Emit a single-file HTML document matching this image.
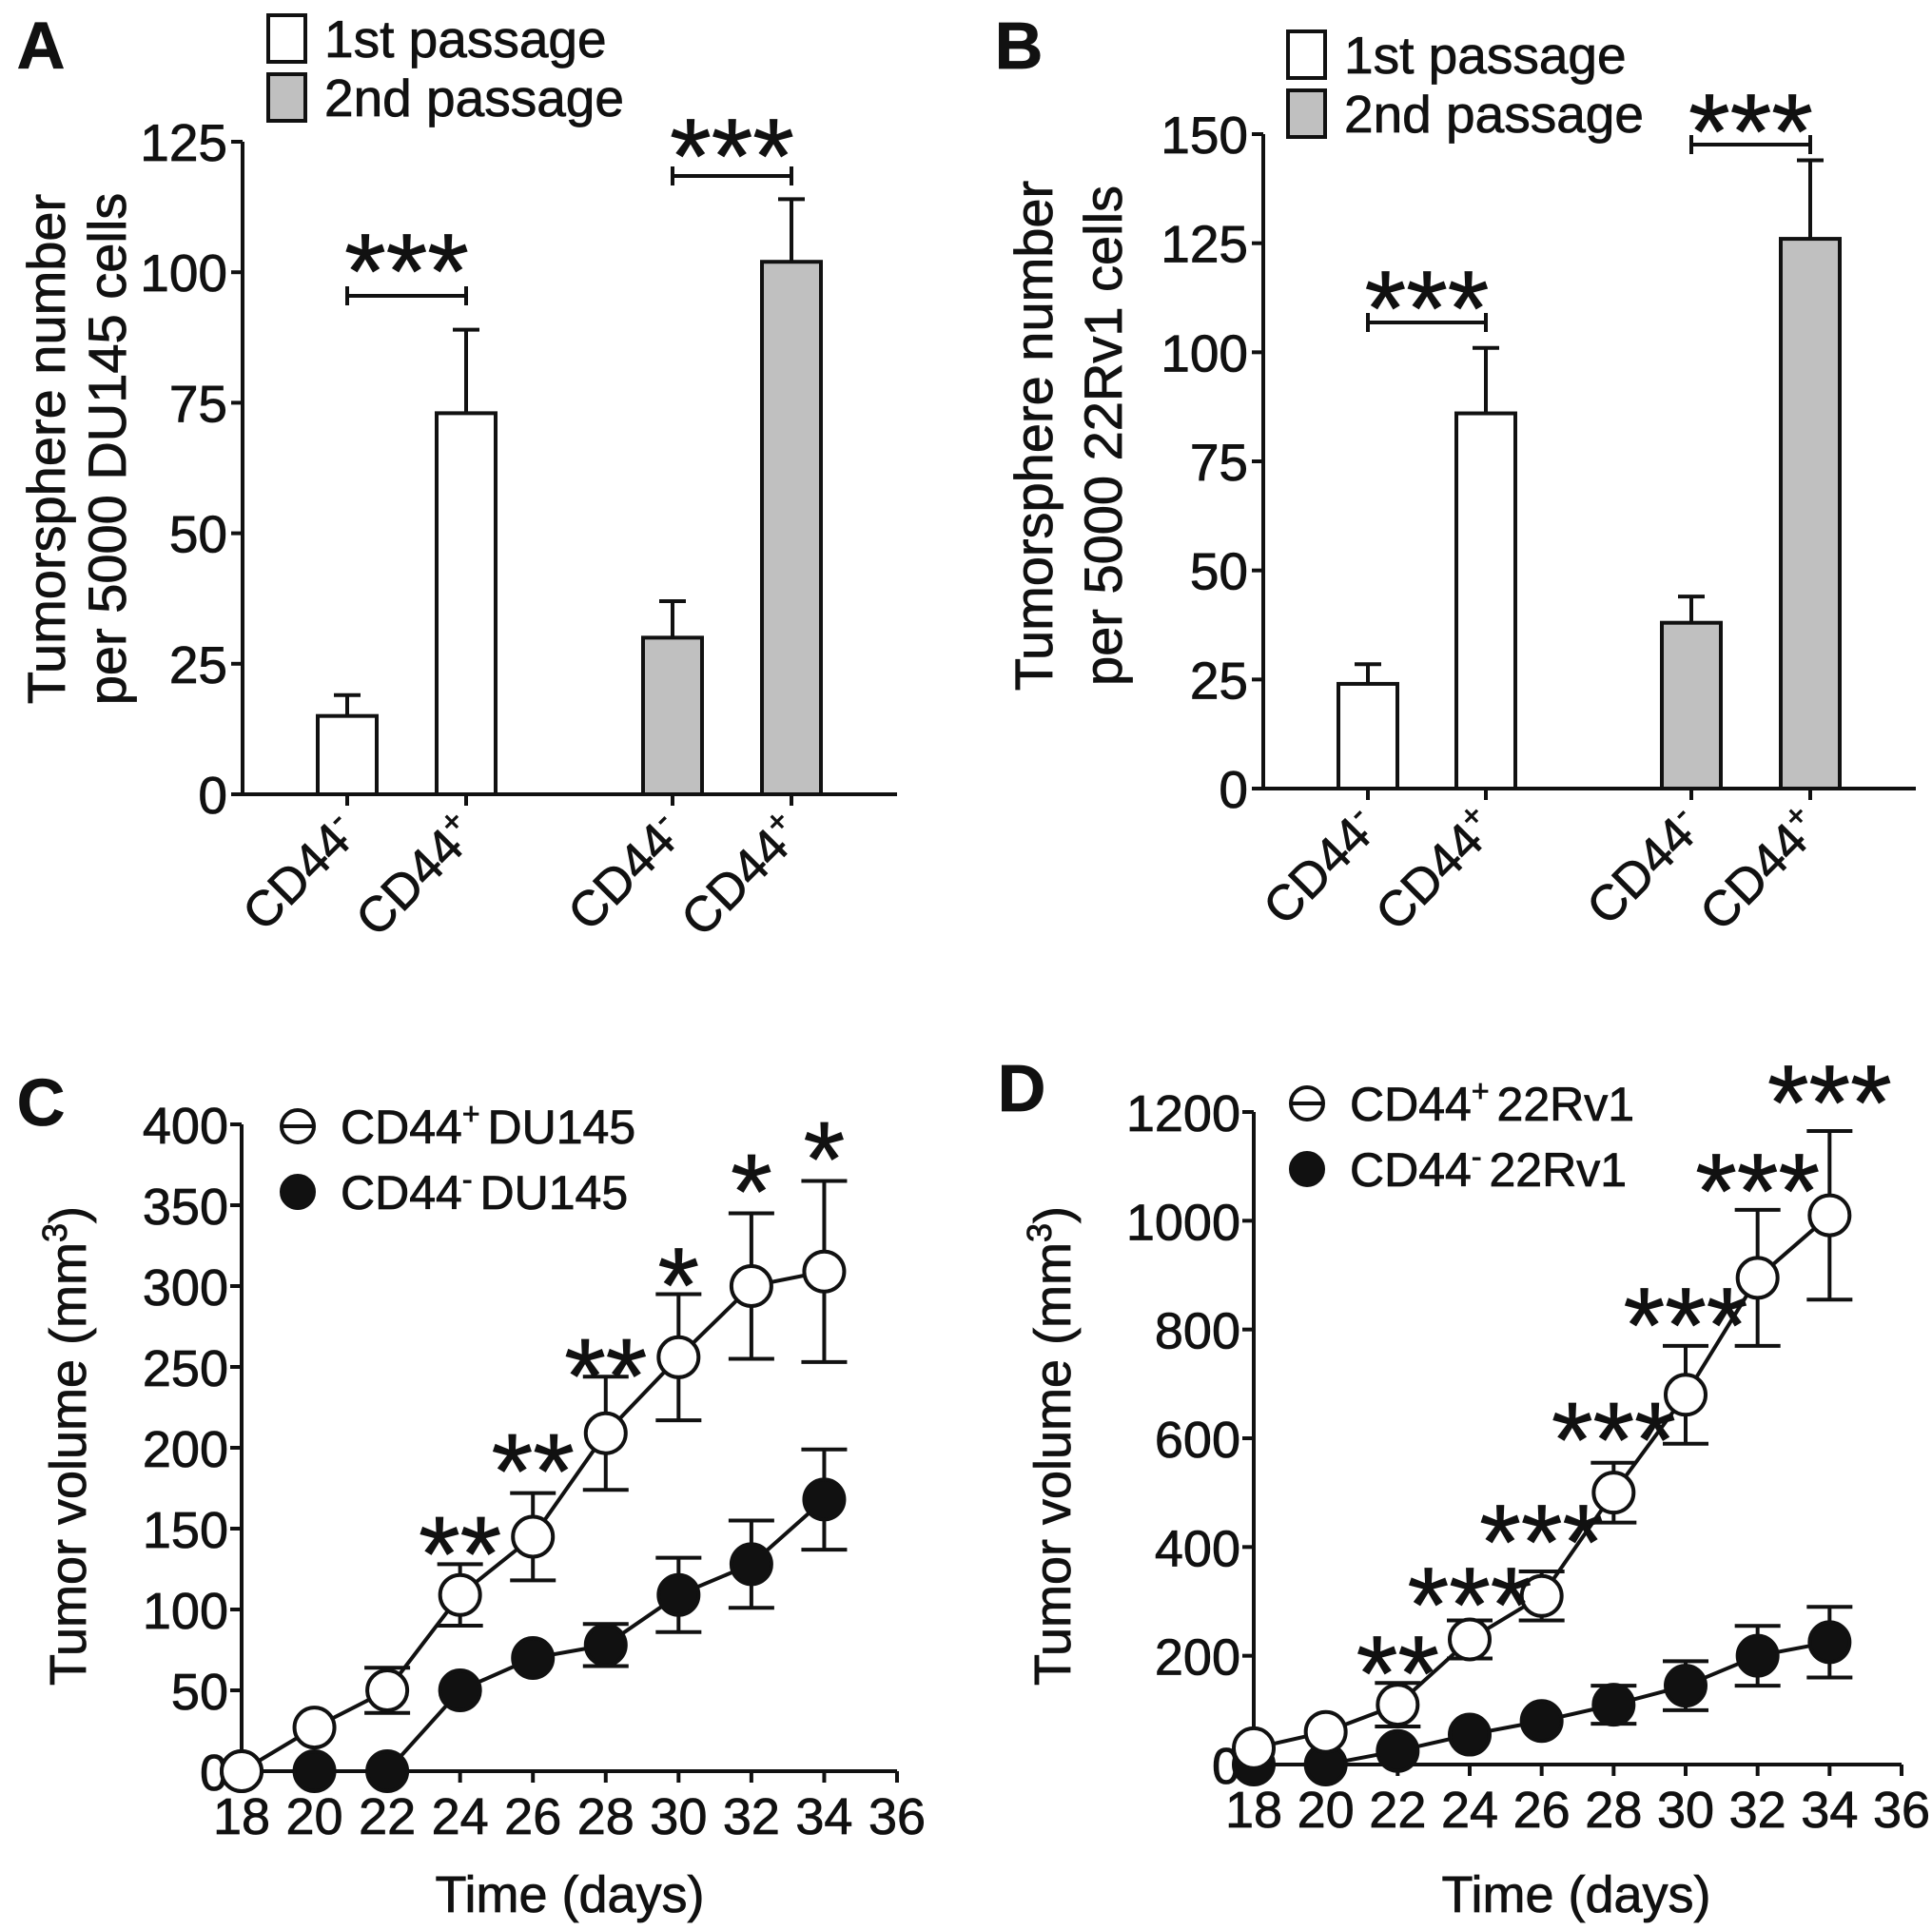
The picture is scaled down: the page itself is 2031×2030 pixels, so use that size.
<!DOCTYPE html>
<html><head><meta charset="utf-8"><style>
html,body{margin:0;padding:0;background:#fff}
svg{display:block;font-family:"Liberation Sans",Arial,sans-serif}
text{stroke:#111;stroke-width:0.8px}
</style></head><body>
<svg id="fig" width="2031" height="2030" viewBox="0 0 2031 2030" xmlns="http://www.w3.org/2000/svg">
<rect width="2031" height="2030" fill="#fff"/>
</svg>
<script>
// Panel A data
const aCats = ["CD44-","CD44+","CD44-","CD44+"];
const aVals = [15, 73, 30, 102];
const aErrs = [4, 16, 7, 12];
const aTicks = [0, 25, 50, 75, 100, 125];
// Panel B data
const bCats = ["CD44-","CD44+","CD44-","CD44+"];
const bVals = [24, 86, 38, 126];
const bErrs = [4.5, 15, 6, 18];
const bTicks = [0, 25, 50, 75, 100, 125, 150];
// Panel C data
const cDays = [18, 20, 22, 24, 26, 28, 30, 32, 34];
const cPlus = [0, 27, 50, 109, 145, 209, 256, 300, 309];
const cPlusErr = [0, 0, 14, 19, 27, 35, 39, 45, 56];
const cMinus = [0, 0, 0, 50, 70, 78, 109, 128, 168];
const cMinusErr = [0, 0, 0, 0, 0, 13, 23, 27, 31];
const cStarDays = [24, 26, 28, 30, 32, 34];
const cStarLabels = ["**", "**", "**", "*", "*", "*"];
const cStarVals = [148, 199, 258, 314, 372, 392];
const cYTicks = [0, 50, 100, 150, 200, 250, 300, 350, 400];
const xTicks = [18, 20, 22, 24, 26, 28, 30, 32, 34, 36];
// Panel D data
const dPlus = [30, 60, 110, 230, 310, 500, 680, 895, 1010];
const dPlusErr = [0, 0, 40, 35, 45, 55, 90, 125, 155];
const dMinus = [0, 0, 25, 55, 80, 110, 145, 200, 225];
const dMinusErr = [0, 0, 0, 0, 0, 35, 45, 55, 65];
const dStarDays = [22, 24, 26, 28, 30, 32, 34];
const dStarLabels = ["**", "***", "***", "***", "***", "***", "***"];
const dStarVals = [208, 334, 450, 638, 848, 1095, 1258];
const dYTicks = [0, 200, 400, 600, 800, 1000, 1200];

const NS = "http://www.w3.org/2000/svg";
const svg = document.getElementById("fig");
function el(tag, attrs, parent) {
  const e = document.createElementNS(NS, tag);
  for (const k in attrs) e.setAttribute(k, attrs[k]);
  (parent || svg).appendChild(e);
  return e;
}
function txt(s, x, y, size, anchor, parent, weight) {
  const t = el("text", {x: x, y: y, "font-size": size, "text-anchor": anchor || "start", fill: "#111", "font-weight": weight || "normal"}, parent);
  t.textContent = s;
  return t;
}

function barPanel(cfg) {
  const g = el("g", {});
  
  
  const y = v => cfg.y0 - (v / cfg.ymax) * (cfg.y0 - cfg.ytop);
  const ax = el("path", {d: `M${cfg.ax} ${cfg.ytop} V${cfg.y0} H${cfg.xend}`, stroke: "#111", "stroke-width": 4, fill: "none"}, g);
  
  
  cfg.ticks.forEach(t => {
    const yy = y(t);
    el("line", {x1: cfg.ax - 12, x2: cfg.ax, y1: yy, y2: yy, stroke: "#111", "stroke-width": 4}, g);
    const l = txt(String(t), cfg.ax - 16, yy + 20, 55, "end", g);
    
    
  });
  cfg.vals.forEach((v, i) => {
    const cx = cfg.centers[i];
    const fill = i < 2 ? "#fff" : "#c0c0c0";
    const eb = el("path", {d: `M${cx} ${y(v)} V${y(v + cfg.errs[i])} M${cx - 14} ${y(v + cfg.errs[i])} H${cx + 14}`, stroke: "#111", "stroke-width": 4, fill: "none"}, g);
    
    
    const r = el("rect", {x: cx - 31, y: y(v), width: 62, height: cfg.y0 - y(v), fill: fill, stroke: "#111", "stroke-width": 4}, g);
    
    
    el("line", {x1: cx, x2: cx, y1: cfg.y0, y2: cfg.y0 + 12, stroke: "#111", "stroke-width": 4}, g);
    const cat = cfg.cats[i];
    const lt = el("text", {x: 0, y: 0, "font-size": 52, "text-anchor": "end", fill: "#111", transform: `translate(${cx + 14},${cfg.y0 + 44}) rotate(-45)`}, g);
    
    
    lt.appendChild(document.createTextNode(cat.slice(0, 4)));
    const sp = el("tspan", {dy: -20, "font-size": 34}, lt);
    sp.textContent = cat.slice(4);
  });
  cfg.brackets.forEach(b => {
    const x1 = cfg.centers[b[0]], x2 = cfg.centers[b[1]];
    const br = el("path", {d: `M${x1} ${b[2] - 10} V${b[2] + 10} M${x1} ${b[2]} H${x2} M${x2} ${b[2] - 10} V${b[2] + 10}`, stroke: "#111", "stroke-width": 4, fill: "none"}, g);
    
    
    const s = txt("***", (x1 + x2) / 2, b[3] + 62, 112, "middle", g);
    
    
  });
  [["1st passage", "#fff"], ["2nd passage", "#c0c0c0"]].forEach((L, i) => {
    const ly = cfg.leg[1] + i * 62;
    const r = el("rect", {x: cfg.leg[0], y: ly, width: 39, height: 49, fill: L[1], stroke: "#111", "stroke-width": 4}, g);
    
    
    const t = txt(L[0], cfg.leg[0] + 59, ly + 44, 55, "start", g);
    
    
  });
  const yt = el("text", {x: 0, y: 0, "font-size": 56, "text-anchor": "middle", fill: "#111", transform: `translate(${cfg.yt[0]},${cfg.yt[2]}) rotate(-90)`}, g);
  
  
  const t1 = el("tspan", {x: 0, y: 19}, yt); t1.textContent = "Tumorsphere number";
  const t2 = el("tspan", {x: 0, y: 19 + (cfg.yt[1] - cfg.yt[0])}, yt); t2.textContent = cfg.ytitle2;
  const pl = txt(cfg.letter, cfg.lp[0], cfg.lp[1], 70, "middle", g, "bold");
  
  
}

barPanel({name: "panel-a", ax: 255, xend: 943, y0: 835, ytop: 149, ymax: 125, ticks: aTicks, vals: aVals, errs: aErrs, cats: aCats,
  centers: [365, 490, 707, 832], brackets: [[0, 1, 311, 262], [2, 3, 185, 141]], leg: [282, 16],
  yt: [49, 113, 472], ytitle2: "per 5000 DU145 cells", letter: "A", lp: [43, 72]});
barPanel({name: "panel-b", ax: 1328, xend: 2014, y0: 829, ytop: 141, ymax: 150, ticks: bTicks, vals: bVals, errs: bErrs, cats: bCats,
  centers: [1438, 1562, 1778, 1903], brackets: [[0, 1, 339, 301], [2, 3, 152, 115]], leg: [1354, 33],
  yt: [1087, 1160, 458], ytitle2: "per 5000 22Rv1 cells", letter: "B", lp: [1071, 72]});

function linePanel(cfg) {
  const g = el("g", {});
  
  
  const x = d => cfg.ax + (d - 18) / 18 * (cfg.xend - cfg.ax);
  const y = v => cfg.y0 - (v / cfg.ymax) * (cfg.y0 - cfg.ytop);
  const ax = el("path", {d: `M${cfg.ax} ${cfg.ytop} V${cfg.y0} H${cfg.xend}`, stroke: "#111", "stroke-width": 4, fill: "none"}, g);
  
  
  cfg.yticks.forEach(t => {
    const yy = y(t);
    el("line", {x1: cfg.ax - 12, x2: cfg.ax, y1: yy, y2: yy, stroke: "#111", "stroke-width": 4}, g);
    const l = txt(String(t), cfg.ax - 14, yy + 20, 54, "end", g);
    
    
  });
  xTicks.forEach(t => {
    const xx = x(t);
    el("line", {x1: xx, x2: xx, y1: cfg.y0, y2: cfg.y0 + 12, stroke: "#111", "stroke-width": 4}, g);
    const l = txt(String(t), xx, cfg.y0 + 66, 54, "middle", g);
    
    
  });
  [[cfg.minus, cfg.minusErr, "#111", "series-cd44-negative"], [cfg.plus, cfg.plusErr, "#fff", "series-cd44-positive"]].forEach(S => {
    const sg = el("g", {}, g);
    
    
    const pts = cDays.map((d, i) => `${x(d)},${y(S[0][i])}`).join(" ");
    el("polyline", {points: pts, fill: "none", stroke: "#111", "stroke-width": 4}, sg);
    cDays.forEach((d, i) => {
      const xx = x(d), v = S[0][i], e = S[1][i];
      if (e > 0) {
        const eb = el("path", {d: `M${xx} ${y(v - e)} V${y(v + e)} M${xx - 24} ${y(v + e)} H${xx + 24} M${xx - 24} ${y(v - e)} H${xx + 24}`, stroke: "#111", "stroke-width": 4, fill: "none"}, sg);
        
        
      }
      const c = el("circle", {cx: xx, cy: y(v), r: 21, fill: S[2], stroke: "#111", "stroke-width": 4}, sg);
      
      
    });
  });
  cfg.starDays.forEach((d, i) => {
    const s = txt(cfg.starLabels[i], x(d), y(cfg.starVals[i]) + 62, 112, "middle", g);
    
    
  });
  [[cfg.legPlus, "+", "#fff"], [cfg.legMinus, "-", "#111"]].forEach((L, i) => {
    const cy = cfg.leg[1] + i * 69;
    const c = el("circle", {cx: cfg.leg[0], cy: cy, r: 17, fill: L[2], stroke: "#111", "stroke-width": 4}, g);
    
    
    if (i === 0) el("line", {x1: cfg.leg[0] - 17, x2: cfg.leg[0] + 17, y1: cy, y2: cy, stroke: "#111", "stroke-width": 4}, g);
    const t = el("text", {x: cfg.leg[0] + 45, y: cy + 18, "font-size": 50, fill: "#111"}, g);
    
    
    t.appendChild(document.createTextNode("CD44"));
    const sp = el("tspan", {dy: -20, "font-size": 32}, t); sp.textContent = L[1];
    const rest = el("tspan", {dy: 20, dx: 8}, t); rest.textContent = L[0];
  });
  const yt = el("text", {x: 0, y: 0, "font-size": 54, "text-anchor": "middle", fill: "#111", transform: `translate(${cfg.ytx + 18},${cfg.yty}) rotate(-90)`}, g);
  
  
  yt.appendChild(document.createTextNode("Tumor volume (mm"));
  const s3 = el("tspan", {dy: -20, "font-size": 36}, yt); s3.textContent = "3";
  const cl = el("tspan", {dy: 20}, yt); cl.textContent = ")";
  const xt = txt("Time (days)", cfg.xtx, 2010, 54, "middle", g);
  
  
  const pl = txt(cfg.letter, cfg.lp[0], cfg.lp[1], 70, "middle", g, "bold");
  
  
}

linePanel({name: "panel-c", ax: 254, xend: 943, y0: 1862, ytop: 1182, ymax: 400, yticks: cYTicks,
  plus: cPlus, plusErr: cPlusErr, minus: cMinus, minusErr: cMinusErr,
  starDays: cStarDays, starLabels: cStarLabels, starVals: cStarVals,
  leg: [313, 1184], legPlus: "DU145", legMinus: "DU145", ytx: 72, yty: 1520, xtx: 599, letter: "C", lp: [43, 1183]});
linePanel({name: "panel-d", ax: 1318, xend: 1999, y0: 1855, ytop: 1169, ymax: 1200, yticks: dYTicks,
  plus: dPlus, plusErr: dPlusErr, minus: dMinus, minusErr: dMinusErr,
  starDays: dStarDays, starLabels: dStarLabels, starVals: dStarVals,
  leg: [1374, 1160], legPlus: "22Rv1", legMinus: "22Rv1", ytx: 1107, yty: 1520, xtx: 1657, letter: "D", lp: [1074, 1168]});
</script>
</body></html>
